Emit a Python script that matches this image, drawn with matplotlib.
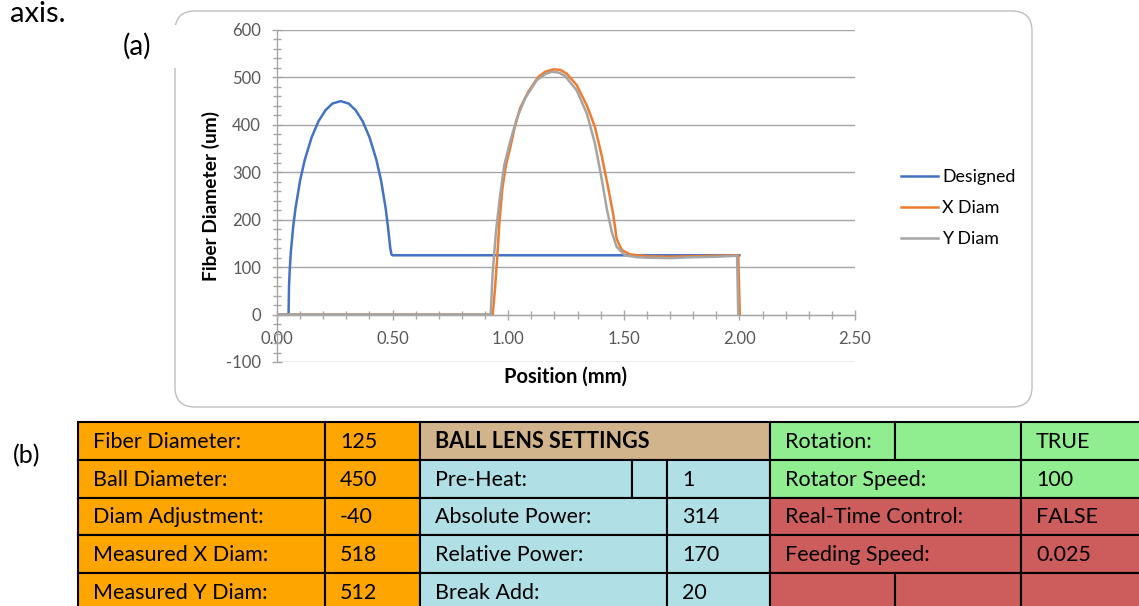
import matplotlib
matplotlib.use('Agg')
import matplotlib.pyplot as plt
import matplotlib.ticker as ticker
from matplotlib.patches import FancyBboxPatch, Rectangle

plt.rcParams['font.family'] = ['Lato', 'DejaVu Sans']
plt.rcParams['axes.unicode_minus'] = False

# Designed ball lens profile (mm, um)
designed_x = [0.00, 0.050, 0.052, 0.055, 0.060, 0.070, 0.080, 0.100, 0.120, 0.150,
              0.180, 0.210, 0.240, 0.275, 0.310, 0.340, 0.370, 0.400, 0.430, 0.450,
              0.470, 0.480, 0.490, 0.495, 0.500, 2.000]
designed_y = [0, 0, 60, 94, 133, 185, 224, 283, 326, 374,
              408, 431, 445, 450, 445, 431, 408, 374, 326, 283,
              224, 185, 140, 127, 125, 125]

# Measured X diameter
xdiam_x = [0.00, 0.933, 0.943, 0.953, 0.962, 0.975, 0.990, 1.008, 1.027, 1.051,
           1.087, 1.130, 1.160, 1.195, 1.225, 1.253, 1.296, 1.340, 1.375, 1.404,
           1.433, 1.455, 1.469, 1.491, 1.527, 1.600, 1.700, 1.800, 1.900, 1.995,
           2.002]
xdiam_y = [0, 0, 55, 125, 195, 266, 315, 350, 392, 435,
           470, 501, 512, 517, 516, 508, 484, 441, 396, 336,
           266, 209, 160, 136, 127, 123, 122, 123, 124, 125,
           0]

# Measured Y diameter
ydiam_x = [0.00, 0.924, 0.933, 0.947, 0.965, 0.983, 1.008, 1.037, 1.073, 1.123,
           1.160, 1.188, 1.220, 1.246, 1.296, 1.340, 1.375, 1.404, 1.426, 1.448,
           1.469, 1.505, 1.556, 1.600, 1.700, 1.800, 1.900, 1.990, 1.995]
ydiam_y = [0, 0, 90, 174, 252, 315, 364, 413, 456, 494,
           507, 512, 510, 503, 473, 424, 361, 287, 224, 174,
           143, 125, 121, 120, 119, 121, 122, 124, 0]

series_labels = ['Designed', 'X Diam', 'Y Diam']
series_colors = ['#4472C4', '#ED7D31', '#A5A5A5']

# Settings table: (row, first col, last col, text, fill, bold)
orange = '#FFA500'
tan = '#D2B48C'
blue = '#B0E0E6'
green = '#90EE90'
red = '#CD5C5C'
table_cells = [
    (0, 0, 1, 'Fiber Diameter:', orange, False),
    (0, 1, 2, '125', orange, False),
    (0, 2, 5, 'BALL LENS SETTINGS', tan, True),
    (0, 5, 6, 'Rotation:', green, False),
    (0, 6, 7, '', green, False),
    (0, 7, 8, 'TRUE', green, False),
    (1, 0, 1, 'Ball Diameter:', orange, False),
    (1, 1, 2, '450', orange, False),
    (1, 2, 3, 'Pre-Heat:', blue, False),
    (1, 3, 4, '', blue, False),
    (1, 4, 5, '1', blue, False),
    (1, 5, 7, 'Rotator Speed:', green, False),
    (1, 7, 8, '100', green, False),
    (2, 0, 1, 'Diam Adjustment:', orange, False),
    (2, 1, 2, '-40', orange, False),
    (2, 2, 4, 'Absolute Power:', blue, False),
    (2, 4, 5, '314', blue, False),
    (2, 5, 7, 'Real-Time Control:', red, False),
    (2, 7, 8, 'FALSE', red, False),
    (3, 0, 1, 'Measured X Diam:', orange, False),
    (3, 1, 2, '518', orange, False),
    (3, 2, 4, 'Relative Power:', blue, False),
    (3, 4, 5, '170', blue, False),
    (3, 5, 7, 'Feeding Speed:', red, False),
    (3, 7, 8, '0.025', red, False),
    (4, 0, 1, 'Measured Y Diam:', orange, False),
    (4, 1, 2, '512', orange, False),
    (4, 2, 4, 'Break Add:', blue, False),
    (4, 4, 5, '20', blue, False),
    (4, 5, 6, '', red, False),
    (4, 6, 7, '', red, False),
    (4, 7, 8, '', red, False),
]

# layout of the table in pixels
col_edges = [78, 325, 420, 632, 667, 770, 895, 1021, 1170]
row_edges = [422, 460, 497.5, 535, 572.7, 610.4]

W, H = 1139, 606
fig = plt.figure(figsize=(W / 100, H / 100), dpi=100)

# background layer in pixel coords
bg = fig.add_axes([0, 0, 1, 1], zorder=0)
bg.set_xlim(0, W)
bg.set_ylim(H, 0)
bg.axis('off')

frame = FancyBboxPatch((175, 11), 1032 - 175, 407 - 11,
                       boxstyle='round,pad=0,rounding_size=20',
                       facecolor='white', edgecolor='#bfbfbf', lw=1.0)
bg.add_patch(frame)
bg.add_patch(Rectangle((100, 25), 77, 43, facecolor='white', edgecolor='none', zorder=3))

bg.text(10, 22, 'axis.', fontsize=21, ha='left', va='baseline', color='black')
bg.text(137, 46, '(a)', fontsize=20, ha='center', va='center', color='black')
bg.text(27, 456, '(b)', fontsize=18, ha='center', va='center', color='black')

for r, c0, c1, txt, fill, bold in table_cells:
    x0, x1 = col_edges[c0], col_edges[c1]
    y0, y1 = row_edges[r], row_edges[r + 1]
    bg.add_patch(Rectangle((x0, y0), x1 - x0, y1 - y0, facecolor=fill,
                           edgecolor='black', lw=1.5))
    if txt:
        bg.text(x0 + 15, (y0 + y1) / 2 + 1, txt, fontsize=15.5, ha='left', va='center',
                fontweight='bold' if bold else 'normal', color='black')

# chart
ax = fig.add_axes([277 / W, 1 - 362 / H, 578 / W, 332 / H], zorder=2)
ax.set_facecolor('none')

ax.plot(designed_x, designed_y, color=series_colors[0], lw=1.8, label=series_labels[0])
ax.plot(xdiam_x, xdiam_y, color=series_colors[1], lw=1.8, label=series_labels[1])
ax.plot(ydiam_x, ydiam_y, color=series_colors[2], lw=1.8, label=series_labels[2])

ax.set_xlim(0, 2.5)
ax.set_ylim(-100, 600)
ax.spines['top'].set_visible(False)
ax.spines['right'].set_visible(False)
ax.spines['bottom'].set_position(('data', 0))
for s in ['left', 'bottom']:
    ax.spines[s].set_color('#a6a6a6')
    ax.spines[s].set_linewidth(1.0)

ax.xaxis.set_major_locator(ticker.MultipleLocator(0.5))
ax.xaxis.set_minor_locator(ticker.MultipleLocator(0.1))
ax.xaxis.set_major_formatter(ticker.FormatStrFormatter('%.2f'))
ax.yaxis.set_major_locator(ticker.MultipleLocator(100))
ax.yaxis.set_minor_locator(ticker.MultipleLocator(20))
ax.tick_params(which='both', direction='inout', color='#a6a6a6', width=1.0)
ax.tick_params(which='major', length=7, labelsize=12, labelcolor='#595959')
ax.tick_params(which='minor', length=6)
ax.tick_params(axis='y', which='major', pad=8)
ax.tick_params(axis='x', which='major', pad=8.5)

ax.grid(axis='y', which='major', color='#a6a6a6', lw=1.0)
ax.set_axisbelow(True)
ax.yaxis.get_gridlines()[2].set_color('#d0d0d0')

ax.set_xlabel('Position (mm)', fontsize=14.5, fontweight='bold', color='black')
ax.xaxis.set_label_coords(0.5, -0.015)
ax.set_ylabel('Fiber Diameter (um)', fontsize=13.8, fontweight='bold', color='black')
ax.yaxis.set_label_coords(-0.099, 0.5)

ax.legend(loc='center left', bbox_to_anchor=(901 / W, 1 - 208 / H),
          bbox_transform=fig.transFigure, frameon=False, fontsize=12.8,
          handlelength=2.1, handletextpad=0.22, labelspacing=0.85,
          borderpad=0, borderaxespad=0)

fig.savefig('out.png', dpi=100)
